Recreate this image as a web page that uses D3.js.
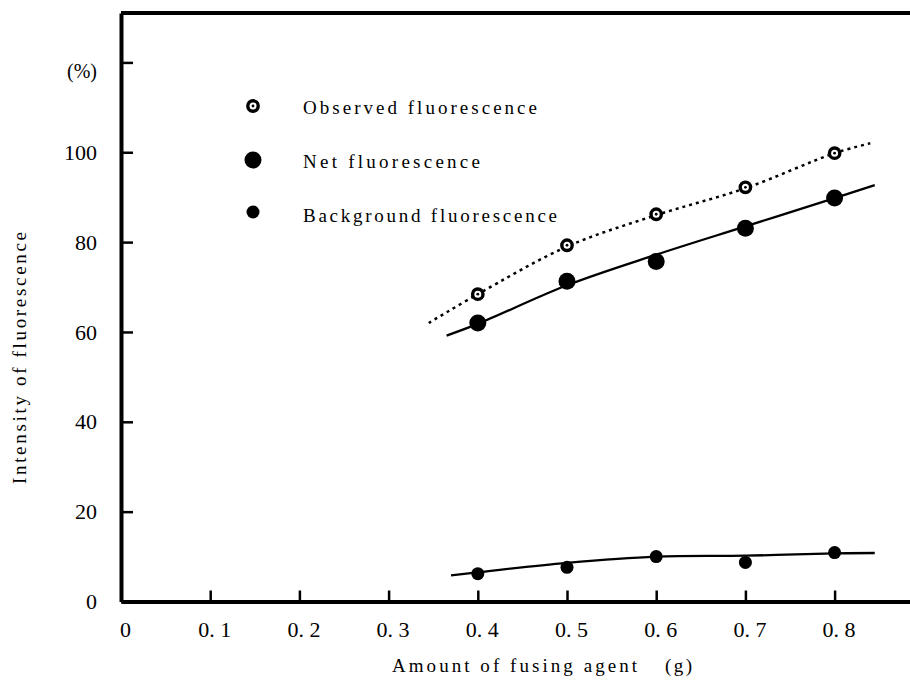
<!DOCTYPE html>
<html>
<head>
<meta charset="utf-8">
<script src="https://cdn.jsdelivr.net/npm/d3@7"></script>
<style>
  html, body { margin: 0; padding: 0; background: #fff; }
</style>
</head>
<body>
<div id="chart"></div>
<script>
// Amount of fusing agent (g)
const amounts = [0.4, 0.5, 0.6, 0.7, 0.8];

// measured points (%)
const observed = [68.4, 79.3, 86.2, 92.2, 99.8];
const net = [62, 71.3, 75.7, 83.1, 89.8];
const background = [6.2, 7.6, 10, 8.7, 10.9];

// hand drawn curves through the points
const observedCurveX = [0.345, 0.4, 0.5, 0.6, 0.7, 0.8, 0.84];
const observedCurveY = [62, 68.4, 79, 86, 92, 99.8, 102];
const netCurveX = [0.365, 0.4, 0.5, 0.6, 0.7, 0.8, 0.845];
const netCurveY = [59.2, 61.8, 70.4, 77.2, 83.5, 89.8, 92.7];
const backCurveX = [0.37, 0.4, 0.5, 0.6, 0.7, 0.8, 0.845];
const backCurveY = [5.8, 6.5, 8.6, 10, 10.2, 10.7, 10.8];

// ticks
const xTicks = [0, 0.1, 0.2, 0.3, 0.4, 0.5, 0.6, 0.7, 0.8];
const xTickLabels = ["0", "0. 1", "0. 2", "0. 3", "0. 4", "0. 5", "0. 6", "0. 7", "0. 8"];
const yTicks = [0, 20, 40, 60, 80, 100, 120];
const yTickLabels = ["0", "20", "40", "60", "80", "100", "(%)"];

const legendNames = ["Observed fluorescence", "Net fluorescence", "Background fluorescence"];

const width = 910, height = 681;
const serif = "'Liberation Serif', 'DejaVu Serif', serif";

const svg = d3.select("#chart")
    .append("svg")
    .attr("width", width)
    .attr("height", height);

const x = d3.scaleLinear().domain([0, 1]).range([121, 1013]);
const y = d3.scaleLinear().domain([0, 131]).range([601.5, 13]);

// top border
svg.append("line")
    .attr("x1", x(0)).attr("x2", width)
    .attr("y1", y(131)).attr("y2", y(131))
    .attr("stroke", "#000").attr("stroke-width", 4);

// x axis
const xAxis = svg.append("g")
    .attr("transform", `translate(0,${y(0)})`)
    .call(d3.axisBottom(x)
        .tickValues(xTicks)
        .tickFormat((d, i) => xTickLabels[i])
        .tickSizeInner(-11)
        .tickSizeOuter(0)
        .tickPadding(20));
xAxis.attr("font-family", serif).attr("font-size", 22);
xAxis.select(".domain").attr("stroke-width", 4);
xAxis.selectAll(".tick line").attr("stroke-width", 2.5);
xAxis.selectAll(".tick text")
    .style("font-family", serif)
    .style("font-size", "22px")
    .attr("dx", 4);

// y axis
const yAxis = svg.append("g")
    .attr("transform", `translate(${x(0)},0)`)
    .call(d3.axisLeft(y)
        .tickValues(yTicks)
        .tickFormat((d, i) => yTickLabels[i])
        .tickSizeInner(-12)
        .tickSizeOuter(0)
        .tickPadding(24));
yAxis.attr("font-family", serif).attr("font-size", 22);
yAxis.select(".domain").attr("stroke-width", 4);
yAxis.selectAll(".tick line").attr("stroke-width", 2.5);
yAxis.selectAll(".tick text")
    .style("font-family", serif)
    .style("font-size", "22px");
yAxis.selectAll(".tick").filter(d => d === 120).select("text")
    .attr("dy", "0.75em")
    .style("font-size", "20px");

// axis titles
function label(sel, txt, size, len) {
    return sel.append("text")
        .style("font-family", serif)
        .style("font-size", size + "px")
        .attr("textLength", len).attr("lengthAdjust", "spacing")
        .text(txt);
}
label(svg, "Amount of fusing agent", 19, 245).attr("x", 392).attr("y", 672);
label(svg, "(g)", 19, 27).attr("x", 665).attr("y", 672);
label(svg, "Intensity of fluorescence", 19, 252)
    .attr("transform", "translate(26,358) rotate(-90)")
    .attr("text-anchor", "middle");

// curves
const curve = d3.line()
    .x(d => x(d[0]))
    .y(d => y(d[1]))
    .curve(d3.curveCatmullRom);

svg.append("path")
    .datum(observedCurveX.map((d, i) => [d, observedCurveY[i]]))
    .attr("d", curve)
    .attr("fill", "none").attr("stroke", "#000")
    .attr("stroke-width", 2.5)
    .attr("stroke-dasharray", "3,4");

svg.append("path")
    .datum(netCurveX.map((d, i) => [d, netCurveY[i]]))
    .attr("d", curve)
    .attr("fill", "none").attr("stroke", "#000")
    .attr("stroke-width", 2.3);

svg.append("path")
    .datum(backCurveX.map((d, i) => [d, backCurveY[i]]))
    .attr("d", curve)
    .attr("fill", "none").attr("stroke", "#000")
    .attr("stroke-width", 2.3);

// markers
function openMarker(g, cx, cy) {
    g.append("circle")
        .attr("cx", cx).attr("cy", cy).attr("r", 5.2)
        .attr("fill", "#fff").attr("stroke", "#000").attr("stroke-width", 3.4);
    g.append("circle")
        .attr("cx", cx).attr("cy", cy).attr("r", 1.4)
        .attr("fill", "#000");
}

const pts = svg.append("g");
amounts.forEach((a, i) => {
    openMarker(pts, x(a), y(observed[i]));
    pts.append("circle")
        .attr("cx", x(a)).attr("cy", y(net[i])).attr("r", 8.5)
        .attr("fill", "#000");
    pts.append("circle")
        .attr("cx", x(a)).attr("cy", y(background[i])).attr("r", 6.5)
        .attr("fill", "#000");
});

// legend
const legendY = [107, 161, 215];
const legendLen = [234, 177, 254];
const legend = svg.append("g");
openMarker(legend, 253, 106);
legend.append("circle").attr("cx", 253).attr("cy", 160).attr("r", 8.5).attr("fill", "#000");
legend.append("circle").attr("cx", 253).attr("cy", 212).attr("r", 6.5).attr("fill", "#000");

legendNames.forEach((name, i) => {
    label(legend, name, 19, legendLen[i])
        .attr("x", 303).attr("y", legendY[i])
        .attr("dy", "0.35em");
});
</script>
</body>
</html>
